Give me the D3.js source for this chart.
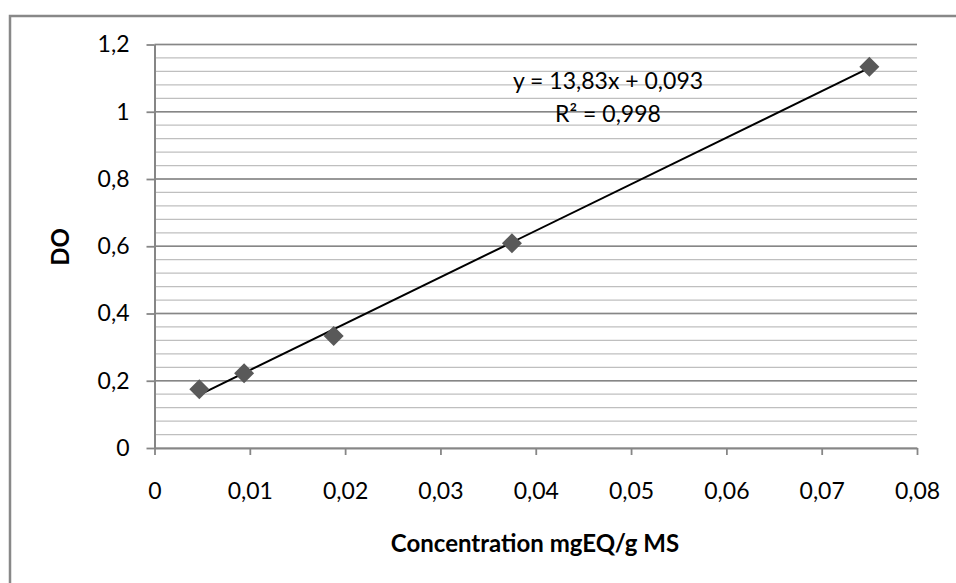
<!DOCTYPE html>
<html><head><meta charset="utf-8">
<script src="https://cdn.jsdelivr.net/npm/d3@7"></script>
<style>body{margin:0;background:#fff;} svg{display:block;} text{font-family:Lato, "Open Sans", sans-serif;fill:#000;}</style>
</head><body>
<script>
const concentration = [0.0047, 0.0094, 0.0188, 0.0375, 0.075];
const absorbance = [0.175, 0.222, 0.333, 0.609, 1.134];
const slope = 13.83, intercept = 0.093;
const xTicks = [0, 0.01, 0.02, 0.03, 0.04, 0.05, 0.06, 0.07, 0.08];
const yTicks = [0, 0.2, 0.4, 0.6, 0.8, 1, 1.2];
const yMinor = d3.range(0, 1.2001, 0.04);
const xTitle = "Concentration mgEQ/g MS";
const yTitle = "DO";
const eqText = "y = 13,83x + 0,093";
const r2Text = "R² = 0,998";

const W = 956, H = 583;
const svg = d3.select("body").append("svg").attr("width", W).attr("height", H);
svg.append("rect").attr("x", 10).attr("y", 16).attr("width", W + 10).attr("height", H + 10)
  .attr("fill", "#fff").attr("stroke", "#888").attr("stroke-width", 2.5);

const x = d3.scaleLinear().domain([0, 0.08]).range([154.5, 917]);
const y = d3.scaleLinear().domain([0, 1.2]).range([448, 44.5]);
const fmt = d => String(+d.toFixed(2)).replace(".", ",");

// minor gridlines
svg.append("g").selectAll("line").data(yMinor).join("line")
  .attr("x1", x(0)).attr("x2", x(0.08))
  .attr("y1", d => y(d)).attr("y2", d => y(d))
  .attr("stroke", "#bfbfbf").attr("stroke-width", 1.3);
// major gridlines
svg.append("g").selectAll("line").data(yTicks.filter(d => d > 0)).join("line")
  .attr("x1", x(0)).attr("x2", x(0.08))
  .attr("y1", d => y(d)).attr("y2", d => y(d))
  .attr("stroke", "#868686").attr("stroke-width", 1.5);

// axes
const xAxis = svg.append("g").attr("transform", `translate(0,${y(0)})`)
  .call(d3.axisBottom(x).tickValues(xTicks).tickFormat(fmt).tickSizeInner(7).tickSizeOuter(0).tickPadding(28));
const yAxis = svg.append("g").attr("transform", `translate(${x(0)},0)`)
  .call(d3.axisLeft(y).tickValues(yTicks).tickFormat(fmt).tickSizeInner(8).tickSizeOuter(0).tickPadding(17));
[xAxis, yAxis].forEach(a => {
  a.select(".domain").attr("stroke", "#868686").attr("stroke-width", 2);
  a.selectAll(".tick line").attr("stroke", "#868686").attr("stroke-width", 1.8);
  a.selectAll(".tick text").attr("font-family", "Lato, sans-serif").attr("font-size", 23).attr("fill", "#000");
});

// trendline
svg.append("line")
  .attr("x1", x(concentration[0])).attr("y1", y(slope * concentration[0] + intercept))
  .attr("x2", x(concentration[4])).attr("y2", y(slope * concentration[4] + intercept))
  .attr("stroke", "#000").attr("stroke-width", 2);

// markers
svg.append("g").selectAll("path").data(concentration).join("path")
  .attr("transform", (d, i) => `translate(${x(d)},${y(absorbance[i])})`)
  .attr("d", "M0,-10L10,0L0,10L-10,0Z")
  .attr("fill", "#595959");

// equation
svg.append("text").attr("x", 608).attr("y", 89).attr("text-anchor", "middle").attr("font-size", 23).text(eqText);
svg.append("text").attr("x", 608).attr("y", 122).attr("text-anchor", "middle").attr("font-size", 23).text(r2Text);

// titles
svg.append("text").attr("x", 535).attr("y", 552).attr("text-anchor", "middle").attr("font-size", 24)
  .attr("font-weight", "bold").text(xTitle);
svg.append("text").attr("transform", "translate(69,247) rotate(-90)").attr("text-anchor", "middle")
  .attr("font-size", 24).attr("font-weight", "bold").text(yTitle);
</script>
</body></html>
